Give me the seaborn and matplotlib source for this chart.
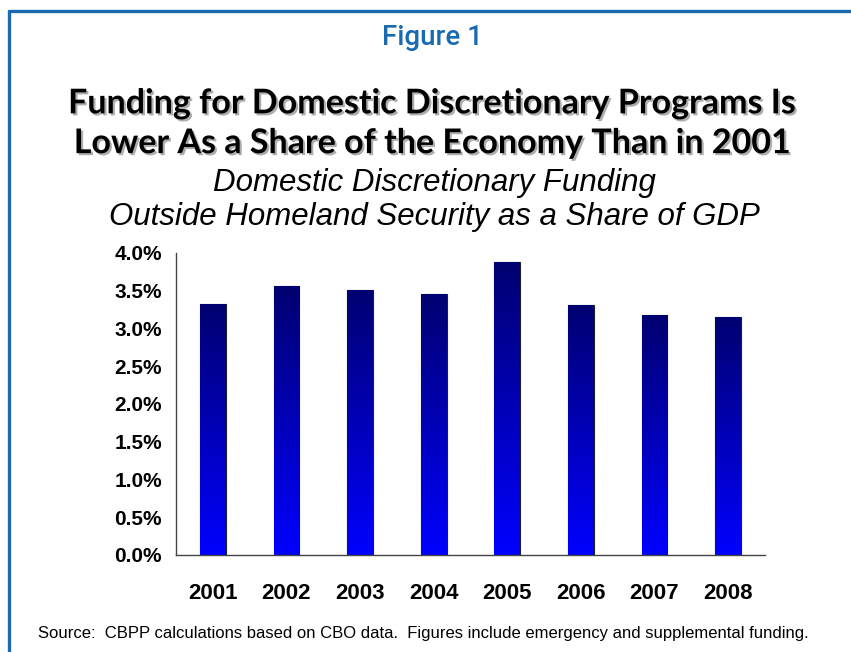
import numpy as np
import pandas as pd
import matplotlib
matplotlib.use("Agg")
import matplotlib.pyplot as plt
import matplotlib.patheffects as pe
from matplotlib.lines import Line2D
from matplotlib.colors import LinearSegmentedColormap
import seaborn as sns

years = ["2001", "2002", "2003", "2004", "2005", "2006", "2007", "2008"]
share_gdp = [3.32, 3.56, 3.51, 3.46, 3.88, 3.31, 3.18, 3.15]
y_ticks = [0.0, 0.5, 1.0, 1.5, 2.0, 2.5, 3.0, 3.5, 4.0]

df = pd.DataFrame({"year": years, "share": share_gdp})

sns.set_style("white")
plt.rcParams["font.family"] = ["Liberation Sans", "DejaVu Sans"]
plt.rcParams["text.color"] = "black"
plt.rcParams["xtick.color"] = "black"
plt.rcParams["ytick.color"] = "black"

fig = plt.figure(figsize=(8.51, 6.52), dpi=100)
ax = fig.add_axes([0.2068, 0.1488, 0.692, 0.4632])

sns.barplot(data=df, x="year", y="share", width=0.35, color="#000080",
            edgecolor="#202020", linewidth=0.8, ax=ax)

# gradient fill, dark navy on top to bright blue at the bottom
grad = LinearSegmentedColormap.from_list("bar", ["#0000FF", "#000070"])
for bar in ax.patches:
    x0, y0 = bar.get_x(), bar.get_y()
    w, h = bar.get_width(), bar.get_height()
    img = ax.imshow(np.linspace(0, 1, 256).reshape(-1, 1), cmap=grad,
                    origin="lower", aspect="auto",
                    extent=[x0, x0 + w, y0, y0 + h], zorder=bar.get_zorder())
    img.set_clip_path(bar)

ax.set_xlim(-0.5, 7.5)
ax.set_ylim(0, 4.0)
ax.set_yticks(y_ticks)
ax.set_yticklabels([f"{t:.1f}%" for t in y_ticks], fontsize=15, fontweight="bold")
ax.set_xticks(range(len(years)))
ax.set_xticklabels(years, fontsize=16, fontweight="bold")
ax.set_xlabel("")
ax.set_ylabel("")

# ticks sit between the categories on the x axis
ax.set_xticks(np.arange(-0.5, 8.0, 1.0), minor=True)
ax.tick_params(axis="x", which="major", length=0, pad=20)
ax.tick_params(axis="x", which="minor", length=7, width=1, color="#444444", direction="out")
ax.tick_params(axis="y", length=6, width=1, color="#444444", direction="out", pad=4)

for s in ["top", "right"]:
    ax.spines[s].set_visible(False)
for s in ["left", "bottom"]:
    ax.spines[s].set_color("#444444")
    ax.spines[s].set_linewidth(1)

fig.text(0.508, 0.943, "Figure 1", ha="center", va="center", fontsize=20,
         color="#1A6AB0", fontweight="medium", family=["Roboto", "Liberation Sans"])

shadow = [pe.withSimplePatchShadow(offset=(1.5, -1.5), shadow_rgbFace="#999999", alpha=0.8)]
fig.text(0.508, 0.811, "Funding for Domestic Discretionary Programs Is\nLower As a Share of the Economy Than in 2001",
         ha="center", va="center", fontsize=24.5, fontweight="bold", color="black",
         linespacing=1.3, family=["Lato", "DejaVu Sans"], path_effects=shadow)

fig.text(0.511, 0.693, "Domestic Discretionary Funding\nOutside Homeland Security as a Share of GDP",
         ha="center", va="center", fontsize=22.5, style="italic", linespacing=1.18)

fig.text(0.045, 0.028, "Source:  CBPP calculations based on CBO data.  Figures include emergency and supplemental funding.",
         ha="left", va="center", fontsize=12)

# frame around the figure (left and top edges visible)
frame = "#1A6AB0"
fig.add_artist(Line2D([8.5 / 851, 8.5 / 851], [0, 1 - 10.5 / 652], color=frame, lw=2.4, transform=fig.transFigure))
fig.add_artist(Line2D([8.5 / 851, 1], [1 - 10.5 / 652, 1 - 10.5 / 652], color=frame, lw=2.4, transform=fig.transFigure))

fig.savefig("out.png", dpi=100)
